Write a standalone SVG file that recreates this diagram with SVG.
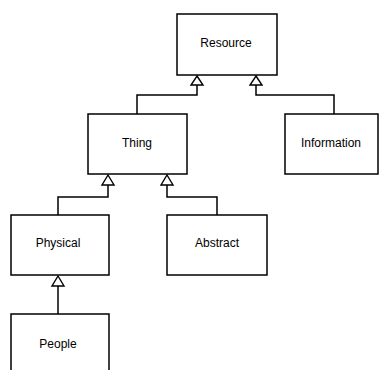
<svg xmlns="http://www.w3.org/2000/svg" width="383" height="370" viewBox="0 0 383 370">
  <style>
    .box { fill: #fff; stroke: #000; stroke-width: 1.5; }
    .lbl { font-family: "Liberation Sans", Arial, sans-serif; font-size: 12px; fill: #000; text-anchor: middle; dominant-baseline: middle; }
    .conn { fill: none; stroke: #000; stroke-width: 1.5; }
    .tri { fill: #fff; stroke: #000; stroke-width: 1.4; }
  </style>
  <rect width="383" height="370" fill="#fff"/>
  <g id="connectors">
    <path class="conn" d="M137,114 V95 H197 V85"/>
    <path class="conn" d="M334,114 V95 H256 V85"/>
    <path class="conn" d="M58,215 V197 H108 V185"/>
    <path class="conn" d="M217,215 V197 H167 V185"/>
    <path class="conn" d="M58,314 V286"/>
    <!-- hollow generalization triangles -->
    <path class="tri" d="M197,76 L203,85 L191,85 Z"/>
    <path class="tri" d="M256,76 L262,85 L250,85 Z"/>
    <path class="tri" d="M108,175 L114,185 L102,185 Z"/>
    <path class="tri" d="M167,175 L173,185 L161,185 Z"/>
    <path class="tri" d="M58,276 L64,286 L52,286 Z"/>
  </g>
  <g id="resource">
    <rect class="box" x="177" y="14" width="100" height="61"/>
    <text class="lbl" x="226" y="44">Resource</text>
  </g>
  <g id="thing">
    <rect class="box" x="88" y="114" width="99" height="60"/>
    <text class="lbl" x="137" y="144">Thing</text>
  </g>
  <g id="information">
    <rect class="box" x="285" y="114" width="93" height="60"/>
    <text class="lbl" x="331" y="144">Information</text>
  </g>
  <g id="physical">
    <rect class="box" x="11" y="215" width="98" height="60"/>
    <text class="lbl" x="58" y="244">Physical</text>
  </g>
  <g id="abstract">
    <rect class="box" x="167" y="215" width="100" height="60"/>
    <text class="lbl" x="217" y="244">Abstract</text>
  </g>
  <g id="people">
    <rect class="box" x="11" y="314" width="98" height="70"/>
    <text class="lbl" x="58" y="345">People</text>
  </g>
</svg>
